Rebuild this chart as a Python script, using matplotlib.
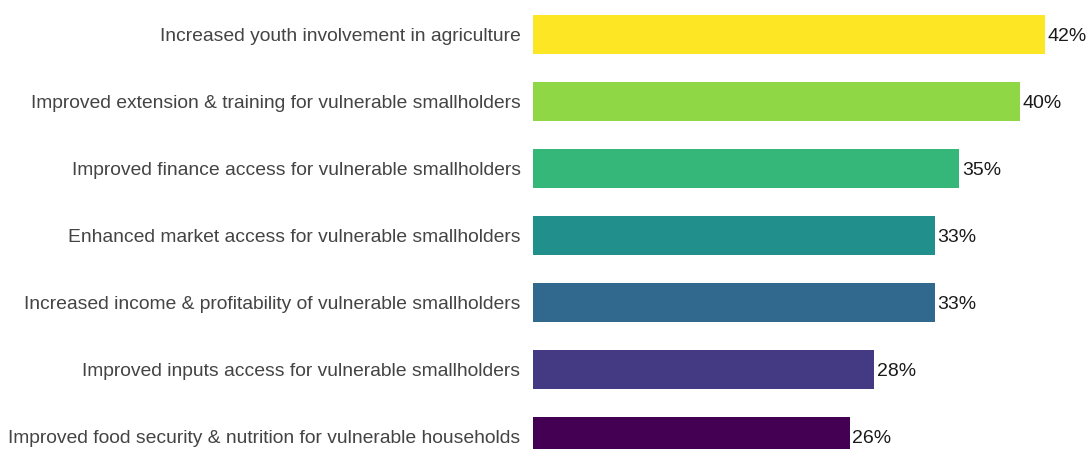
import matplotlib
matplotlib.use("Agg")
import matplotlib.pyplot as plt

categories = [
    "Increased youth involvement in agriculture",
    "Improved extension & training for vulnerable smallholders",
    "Improved finance access for vulnerable smallholders",
    "Enhanced market access for vulnerable smallholders",
    "Increased income & profitability of vulnerable smallholders",
    "Improved inputs access for vulnerable smallholders",
    "Improved food security & nutrition for vulnerable households",
]
values = [42, 40, 35, 33, 33, 28, 26]
colors = ["#fde725", "#8fd744", "#35b779", "#21908d", "#31688e", "#443a83", "#440154"]

plt.rcParams["font.family"] = ["Liberation Sans", "DejaVu Sans"]

W, H, DPI = 1089, 449, 100
fig = plt.figure(figsize=(W / DPI, H / DPI), dpi=DPI)
ax = fig.add_axes([533 / W, 0, (1085 - 533) / W, 1])

pos = list(range(len(categories)))
ax.barh(pos, values, height=0.59, color=colors)

ax.set_xlim(0, 45.3)
ax.set_ylim(6.187, -0.515)
ax.set_yticks(pos)
ax.set_yticklabels(categories, fontsize=13.9, color="#444444")
ax.tick_params(axis="y", length=0, pad=9)
ax.set_xticks([])
for s in ax.spines.values():
    s.set_visible(False)

for p, v in zip(pos, values):
    ax.text(v + 0.2, p, f"{v}%", va="center_baseline", ha="left", fontsize=14, color="#1a1a1a")

fig.savefig("out.png", dpi=DPI)
